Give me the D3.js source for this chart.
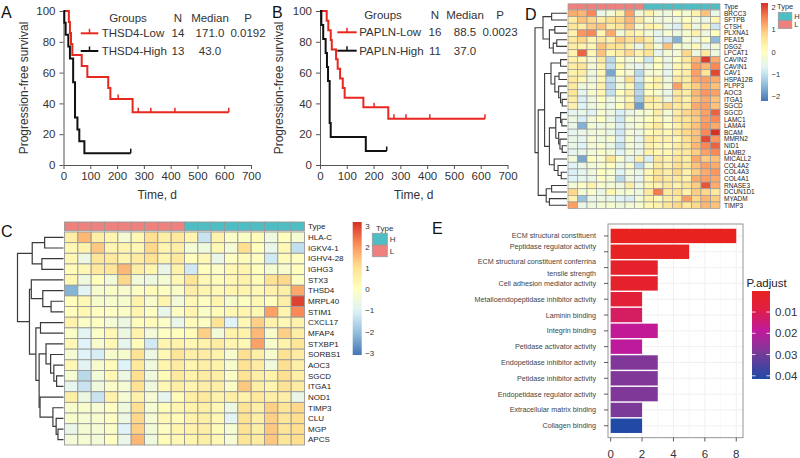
<!DOCTYPE html>
<html><head><meta charset="utf-8">
<script src="https://cdn.jsdelivr.net/npm/d3@7"></script>
<style>
body{margin:0;background:#fff}
svg{display:block}
text{font-family:"Liberation Sans",Arial,Helvetica,sans-serif}
</style>
</head><body>
<svg id="chart" width="800" height="458"></svg>
<script>
// ---------------- DATA ----------------
// Panel A (THSD4)
const thsd4LowTime  = [0,20,24,28,33,68,89,167,175,258,617];
const thsd4LowSurv  = [100,92.9,85.7,78.6,71.4,64.3,57.1,50.0,42.9,34.3,34.3];
const thsd4LowCens  = [204,279,326,416,617];
const thsd4HighTime = [0,3,8,18,24,36,43,52,59,78,251];
const thsd4HighSurv = [100,92.3,84.6,76.9,69.2,53.8,30.8,23.1,15.4,7.7,7.7];
const thsd4HighCens = [251];
const groupsA = ["THSD4-Low","THSD4-High"];
const nA = ["14","13"];
const medianA = ["171.0","43.0"];
const pA = "0.0192";
// Panel B (PAPLN)
const paplnLowTime  = [0,25,31,40,44,60,66,75,85,92,162,255,616];
const paplnLowSurv  = [100,93.75,87.5,81.25,75,68.75,62.5,56.25,50,43.75,37.5,30,30];
const paplnLowCens  = [202,276,321,410,616];
const paplnHighTime = [0,5,12,21,26,30,36,40,171,249];
const paplnHighSurv = [100,90.9,81.8,72.7,63.6,54.5,27.3,18.2,9.1,9.1];
const paplnHighCens = [249];
const groupsB = ["PAPLN-Low","PAPLN-High"];
const nB = ["16","11"];
const medianB = ["88.5","37.0"];
const pB = "0.0023";
const kmTimeTicks = [0,100,200,300,400,500,600,700];
const kmSurvTicks = [0,20,40,60,80,100];

// Panel C heatmap
const genesC = ["HLA-C","IGKV4-1","IGHV4-28","IGHG3","STX3","THSD4","MRPL40","STIM1","CXCL17","MFAP4",
  "STXBP1","SORBS1","AOC3","SGCD","ITGA1","NOD1","TIMP3","CLU","MGP","APCS"];
const typesC = ["L","L","L","L","L","L","L","L","L","H","H","H","H","H","H","H","H","H"];
const heatC = [
 [0.6,1.6,0.6,0.4,-0.3,0.3,1.1,0.6,0.8, 0.4,-1.3,0.5,-0.1,-0.1,0.2,-0.5,0.1,-0.3],
 [0.3,0.5,1.4,0.4,0.4,0.3,1.2,0.4,0.6, -0.3,-0.5,0.3,-0.3,1.1,0.1,-0.7,0.3,-1.4],
 [0.3,-0.6,0.9,0.8,0.4,0.7,1.0,0.4,0.8, 0.1,0.3,-0.7,0.0,0.2,0.0,-1.2,0.2,0.0],
 [0.2,0.3,0.8,0.9,1.6,0.6,0.4,-0.7,0.5, -1.2,0.1,-0.1,0.3,0.4,0.1,-0.3,-0.2,0.1],
 [0.3,-0.5,0.1,-0.4,1.2,-0.4,-0.5,-0.3,0.3, 0.9,0.3,0.2,0.3,0.5,0.2,1.0,1.2,0.0],
 [-2.2,-0.9,-0.2,-0.1,-0.2,0.0,0.2,0.0,-0.1, 0.6,0.4,0.3,0.4,0.4,0.3,0.5,0.6,1.8],
 [0.1,0.3,-0.2,-0.2,-0.2,0.5,-0.2,0.4,-0.4, 0.3,0.0,0.4,-0.2,0.0,0.3,0.1,0.6,3.0],
 [0.1,0.3,0.0,0.0,-0.1,0.4,0.0,-0.7,0.0, 0.4,-0.1,0.2,0.3,0.4,0.3,1.9,0.4,2.2],
 [0.5,-0.1,0.0,-0.3,-0.6,0.2,0.2,-0.1,-0.7, 0.2,0.0,1.0,-1.0,0.3,1.3,0.5,0.3,0.5],
 [-0.1,-0.9,-0.1,0.3,-0.6,0.5,-0.4,0.0,0.1, 0.2,1.3,-0.4,0.5,0.5,1.6,-0.2,1.3,0.6],
 [0.3,-1.0,-0.2,0.3,-0.8,0.2,-1.2,0.4,0.5, 0.3,0.5,0.7,0.4,0.3,1.9,-0.2,0.5,0.9],
 [-0.3,-1.0,-1.1,-0.2,-0.2,1.0,-0.6,0.3,0.9, 0.6,0.7,0.5,-0.2,1.1,0.6,-0.2,1.0,0.7],
 [0.3,-0.9,-0.2,0.2,-1.0,0.8,-0.5,0.4,0.7, 0.4,0.6,0.5,-0.2,1.0,0.7,-0.5,1.1,0.6],
 [-0.3,-1.5,-0.4,0.3,-0.6,1.1,-0.5,0.2,0.8, 0.5,0.7,0.6,-0.1,1.0,0.6,0.5,1.1,0.6],
 [-0.8,-1.3,-0.5,-0.1,-0.3,1.0,-0.5,0.3,0.6, 0.4,0.6,0.6,-0.1,1.4,0.6,0.4,1.0,0.7],
 [0.6,-0.6,-1.3,0.5,-0.3,0.5,-0.3,-0.8,0.2, 0.6,0.8,0.5,0.6,0.5,0.8,0.6,0.6,-0.7],
 [-0.2,-0.2,-0.3,0.0,-0.5,1.1,-0.3,0.2,0.4, 0.5,0.6,0.3,-0.6,1.0,0.6,1.3,0.9,1.2],
 [-0.2,-0.3,-0.2,0.0,-0.6,1.2,-0.3,0.3,0.2, 0.5,0.6,0.3,-0.9,1.0,0.6,1.3,0.9,1.1],
 [-0.7,-0.3,-0.3,-0.1,-1.0,1.3,-0.4,0.0,0.4, 0.5,0.6,0.2,-0.3,1.0,0.6,1.4,0.9,1.1],
 [-0.4,-0.3,-0.4,0.0,-0.7,1.6,-0.5,0.2,0.3, 0.4,0.6,0.3,-0.3,0.9,0.7,1.4,0.9,1.1]
];
const legendTicksC = [3,2,1,0,-1,-2,-3];
const treeC = [10,
  [6.8,[4.1,0,1],[4.7,2,3]],
  [7.4,
    [7.0,4,[4.5,5,[2.7,6,7]]],
    [6.0,[5.0,8,9],
      [5.3,[3.8,10,[2.8,11,[2.1,12,[1.5,13,14]]]],
           [5.1,15,[2.3,16,[1.6,17,[1.2,18,19]]]]]]]];

// Panel D heatmap
const genesD = ["BRCC3","SFTPB","CTSH","PLXNA1","PEA15","DSG2","LPCAT1","CAVIN2","CAVIN1","CAV1","HSPA12B",
  "PLPP3","AOC3","ITGA1","SGCD","SGCD","LAMC1","LAMA4","BCAM","MMRN2","NID1","LAMB2","MICALL2","COL4A2",
  "COL4A3","COL4A1","RNASE3","DCUN1D1","MYADM","TIMP3"];
const typesD = ["L","L","L","L","L","L","L","L","H","H","H","H","H","H","H","H"];
const heatD = [
 [1.2,1.1,1.5,-0.5,-0.3,0.3,1.3,-0.3,0.3,-0.3,-0.4,0.0,-0.3,0.3,1.0,-0.5],
 [0.4,1.0,0.8,0.4,0.7,0.8,1.1,0.5,-0.2,-0.4,-0.3,-0.4,0.0,-0.3,-0.5,0.2],
 [0.6,0.4,0.9,1.0,0.4,0.6,1.0,-0.2,0.3,0.2,-0.5,-0.8,0.3,-0.4,0.2,-0.9],
 [0.3,1.4,1.5,0.2,1.2,-0.3,0.4,0.2,-0.3,-0.6,-0.2,-0.4,-0.2,0.3,-0.4,0.0],
 [0.5,0.8,0.2,0.5,0.3,0.9,0.7,0.8,0.4,-0.6,-0.9,-1.6,-0.3,-0.5,0.0,-1.5],
 [0.4,0.3,0.2,1.0,0.7,0.6,0.3,-0.5,0.5,-0.3,1.0,-0.2,-0.3,0.1,-0.6,-0.3],
 [0.3,1.8,0.2,1.0,0.2,0.4,0.8,0.3,0.6,-0.6,-0.3,-0.3,0.8,-0.4,0.5,-0.4],
 [0.3,0.2,-0.3,0.5,-1.1,0.0,-0.3,-0.1,-0.9,0.1,-0.5,0.0,0.5,1.1,2.1,1.2],
 [0.4,0.6,-0.3,0.3,-1.0,0.2,-0.4,-0.6,-0.4,0.0,-0.5,0.2,0.3,1.3,1.1,1.5],
 [0.3,0.4,-0.4,0.2,-1.7,0.0,-0.2,-1.1,-0.3,-0.2,-0.6,0.2,0.4,1.3,0.6,2.0],
 [0.5,0.2,-0.4,0.2,-1.0,-0.3,0.7,-0.9,0.0,0.3,-0.4,0.5,0.4,1.2,1.3,1.2],
 [0.5,-0.4,-0.3,0.3,-1.1,-0.3,0.2,-1.2,0.2,0.3,-0.3,1.3,0.5,0.9,1.2,1.0],
 [0.6,-0.6,-0.2,0.2,-1.0,0.0,0.4,-1.1,0.0,-0.2,-0.5,0.5,0.4,1.1,1.4,1.3],
 [0.4,-0.8,-0.4,0.0,-0.5,-0.2,0.2,-1.3,0.5,0.3,-0.4,0.6,0.3,1.0,1.2,1.0],
 [0.3,-0.7,-0.4,-0.2,-0.5,0.0,0.5,-1.8,0.3,0.3,0.8,0.5,0.4,1.2,1.3,1.0],
 [-0.6,-0.5,-0.7,-0.2,-0.4,-0.8,-0.5,-0.3,-0.2,0.4,-0.3,0.4,0.8,1.0,1.3,1.8],
 [-0.4,-0.8,-0.3,0.0,-0.5,-0.9,-0.2,-0.3,0.0,0.2,-0.2,0.5,0.6,0.9,1.3,1.5],
 [-0.5,-1.6,-0.3,-0.4,-0.3,-0.8,-0.4,-0.2,0.2,0.5,0.0,0.3,0.7,1.0,1.4,1.2],
 [-0.6,-0.5,-0.4,-0.3,-0.5,-0.9,-0.3,-0.5,0.1,0.3,0.2,0.5,0.8,1.0,1.5,2.2],
 [-0.5,-0.6,-0.2,-0.4,-0.2,-0.8,-0.2,-0.6,0.4,0.3,0.3,0.2,0.7,1.0,2.0,1.4],
 [-0.5,-0.7,-0.3,-0.2,-0.5,-1.0,-0.3,-0.5,0.3,0.2,0.1,0.4,0.6,1.1,1.5,1.8],
 [-0.6,-0.5,-0.3,-0.1,-0.3,-0.7,-0.3,-0.5,0.3,0.2,0.2,0.4,0.5,0.9,1.3,1.5],
 [-0.3,-1.7,0.0,-0.2,0.6,-0.2,-0.6,0.3,-0.8,0.5,0.3,0.6,0.4,1.2,0.9,1.0],
 [-0.7,-0.5,-0.3,-0.2,0.0,-0.5,-0.2,-1.1,-0.3,0.5,0.3,0.7,0.5,1.0,1.3,1.2],
 [-0.8,-0.6,-0.4,0.0,-0.2,-0.7,-0.3,-0.5,0.2,0.6,0.4,0.8,0.3,0.9,1.2,1.4],
 [-0.7,-0.6,-0.5,-0.1,-0.3,-1.1,-0.4,-0.6,0.2,0.7,0.5,0.5,0.3,1.2,1.3,1.2],
 [-0.3,-0.1,0.3,-0.2,-0.3,-0.4,0.4,-0.4,0.2,0.3,0.5,0.3,0.6,0.9,1.9,1.2],
 [0.8,-0.3,-0.1,-0.5,0.2,-0.3,-0.2,-0.4,0.5,1.6,0.5,0.7,0.3,0.9,0.8,0.5],
 [0.3,-1.4,-0.5,-0.4,-0.5,-0.7,-0.8,-0.3,0.3,0.1,0.4,0.5,1.3,0.8,1.1,0.9],
 [1.3,-0.5,-0.4,-0.3,-0.2,-0.4,-0.3,-0.2,0.2,0.3,0.6,0.8,0.5,0.8,1.1,1.0]
];
const legendTicksD = [2,1,0,-1,-2];
const treeD = [10,
  [7.5,[4.8,0,1],[5.5,[3.8,2,3],[4.3,[3.2,4,5],6]]],
  [9.0,
    [7.0,
      [5.0,[2.0,7,8],[3.8,[2.5,9,10],[2.6,11,[2.0,12,[1.5,13,14]]]]],
      [5.5,[3.5,[2.0,15,[1.6,16,17]],[2.6,18,[2.2,19,[1.5,20,21]]]],[4.0,22,[2.8,23,[1.8,24,25]]]]],
    [6.5,[4.8,26,27],[5.5,28,29]]]];

// Panel E
const goTerms = ["ECM structural constituent","Peptidase regulator activity\n",
  "ECM structural constituent conferrina\ntensile strength","Cell adhesion mediator activity",
  "Metalloendopeptidase inhibitor activity","Laminin binding","Integrin binding",
  "Petidase activator activity","Endopetidase inhibitor activity","Petidase inhibitor activity",
  "Endopetidase regulator activity","Extracellular matrix binding","Collagen binding"];
const goCount = [8,5,3,3,2,2,3,2,3,3,3,2,2];
const goPadj  = [0.0002,0.0010,0.0030,0.0032,0.0060,0.0120,0.0180,0.0190,0.0280,0.0282,0.0284,0.0290,0.0412];
const goCountTicks = [0,2,4,6,8];
const padjTicks = [0.01,0.02,0.03,0.04];
const padjLabels = ["0.01","0.02","0.03","0.04"];

// ---------------- DRAW ----------------
const svg = d3.select("#chart");
svg.append("rect").attr("width",800).attr("height",458).attr("fill","#fff");
const RED = "#E8271F";
const FONT = '"Liberation Sans",Arial,Helvetica,sans-serif';

function panelLetter(t,x,y){
  svg.append("text").attr("x",x).attr("y",y).attr("font-size",16).attr("fill","#111").text(t);
}

function survAt(time,surv,t){
  let s = surv[0];
  for(let i=0;i<time.length;i++){ if(time[i]<=t) s = surv[i]; }
  return s;
}

function drawKM(cfg){
  const g = svg.append("g");
  const x = d3.scaleLinear().domain([0,700]).range(cfg.xr);
  const y = d3.scaleLinear().domain([0,100]).range([165,11]);
  const ax = g.append("g").attr("transform","translate(0,165)")
    .call(d3.axisBottom(x).tickValues(kmTimeTicks).tickSize(4).tickSizeOuter(0).tickPadding(3));
  const ay = g.append("g").attr("transform",`translate(${cfg.xr[0]},0)`)
    .call(d3.axisLeft(y).tickValues(kmSurvTicks).tickSize(4).tickSizeOuter(0).tickPadding(4));
  [ax,ay].forEach(a=>{
    a.selectAll("path,line").attr("stroke","#555");
    a.selectAll("text").attr("font-size",11.5).attr("fill","#333").attr("font-family",FONT);
  });
  g.append("text").attr("x",(cfg.xr[0]+cfg.xr[1])/2).attr("y",199).attr("text-anchor","middle")
    .attr("font-size",12).attr("fill","#333").text("Time, d");
  g.append("text").attr("transform",`translate(${cfg.ytx},88) rotate(-90)`).attr("text-anchor","middle")
    .attr("font-size",12).attr("fill","#333").text("Progression-free survival");
  const line = d3.line().x(d=>x(d[0])).y(d=>y(d[1])).curve(d3.curveStepAfter);
  cfg.series.forEach(s=>{
    const pts = s.time.map((t,i)=>[t,s.surv[i]]);
    g.append("path").attr("d",line(pts)).attr("fill","none").attr("stroke",s.color).attr("stroke-width",2);
    s.cens.forEach(t=>{
      const v = survAt(s.time,s.surv,t);
      g.append("line").attr("x1",x(t)).attr("x2",x(t)).attr("y1",y(v)).attr("y2",y(v)-4.5)
        .attr("stroke",s.color).attr("stroke-width",1.5);
    });
  });
  // legend table
  const L = cfg.leg;
  const hdr = [["Groups",L.gx,"middle"],["N",L.nx,"middle"],["Median",L.mx,"middle"],["P",L.px,"middle"]];
  hdr.forEach(h=>g.append("text").attr("x",h[1]).attr("y",L.hy).attr("text-anchor",h[2])
    .attr("font-size",11.5).attr("fill","#333").text(h[0]));
  cfg.series.forEach((s,i)=>{
    const yy = L.ry[i];
    g.append("line").attr("x1",L.lx[0]).attr("x2",L.lx[1]).attr("y1",yy).attr("y2",yy)
      .attr("stroke",s.color).attr("stroke-width",2);
    const cx=(L.lx[0]+L.lx[1])/2;
    g.append("line").attr("x1",cx).attr("x2",cx).attr("y1",yy).attr("y2",yy-4.5)
      .attr("stroke",s.color).attr("stroke-width",1.5);
    g.append("text").attr("x",L.nameX).attr("y",yy+4).attr("font-size",11.5).attr("fill","#333").text(cfg.groups[i]);
    g.append("text").attr("x",L.nx).attr("y",yy+4).attr("text-anchor","middle").attr("font-size",11.5).attr("fill","#333").text(cfg.n[i]);
    g.append("text").attr("x",L.mx).attr("y",yy+4).attr("text-anchor","middle").attr("font-size",11.5).attr("fill","#333").text(cfg.median[i]);
    if(i===0) g.append("text").attr("x",L.px).attr("y",yy+4).attr("text-anchor","middle").attr("font-size",11.5).attr("fill","#333").text(cfg.p);
  });
}

drawKM({xr:[63.5,251], ytx:28,
  series:[{time:thsd4LowTime,surv:thsd4LowSurv,cens:thsd4LowCens,color:RED},
          {time:thsd4HighTime,surv:thsd4HighSurv,cens:thsd4HighCens,color:"#111"}],
  groups:groupsA,n:nA,median:medianA,p:pA,
  leg:{gx:128,nx:178,mx:210,px:248,hy:21.5,ry:[33.3,51],lx:[80.7,98.3],nameX:101.7}});
drawKM({xr:[320,507.5], ytx:283,
  series:[{time:paplnLowTime,surv:paplnLowSurv,cens:paplnLowCens,color:RED},
          {time:paplnHighTime,surv:paplnHighSurv,cens:paplnHighCens,color:"#111"}],
  groups:groupsB,n:nB,median:medianB,p:pB,
  leg:{gx:383,nx:435,mx:465,px:500,hy:19,ry:[32.3,50.7],lx:[337.3,356.7],nameX:359.3}});

panelLetter("A",1,18);
panelLetter("B",272,18);

// ----- heatmaps -----
const RDYLBU = ["#4575B4","#91BFDB","#E0F3F8","#FFFFBF","#FEE090","#FC8D59","#D73027"];
const TYPECOL = {H:"#4CBEC4", L:"#EE817D"};

function toNode(a){ return typeof a==="number" ? {leaf:a} : {h:a[0], children:[toNode(a[1]),toNode(a[2])]}; }

function drawHeatmap(c){
  const g = svg.append("g");
  const nr = c.genes.length, nc = c.types.length;
  const xb = d3.scaleBand().domain(d3.range(nc)).range(c.xr);
  const yb = d3.scaleBand().domain(d3.range(nr)).range(c.yr);
  const dom = d3.range(7).map(i=>c.cd[0]+i*(c.cd[1]-c.cd[0])/6);
  const col = d3.scaleLinear().domain(dom).range(RDYLBU);
  // type bar
  g.selectAll(".tp").data(c.types).join("rect")
    .attr("x",(d,i)=>xb(i)).attr("y",c.ty[0]).attr("width",xb.bandwidth()).attr("height",c.ty[1]-c.ty[0])
    .attr("fill",d=>TYPECOL[d]).attr("stroke","#999").attr("stroke-width",c.sw);
  g.append("text").attr("x",c.xr[1]+c.lgap).attr("y",(c.ty[0]+c.ty[1])/2).attr("dy","0.35em")
    .attr("font-size",c.fs).attr("fill","#222").text("Type");
  // cells
  c.mat.forEach((row,ri)=>{
    g.selectAll(null).data(row).join("rect")
      .attr("x",(d,ci)=>xb(ci)).attr("y",yb(ri)).attr("width",xb.bandwidth()).attr("height",yb.bandwidth())
      .attr("fill",d=>col(d)).attr("stroke","#999").attr("stroke-width",c.sw);
  });
  g.selectAll(".gl").data(c.genes).join("text")
    .attr("x",c.xr[1]+c.lgap).attr("y",(d,i)=>yb(i)+yb.bandwidth()/2).attr("dy","0.35em")
    .attr("font-size",c.fs).attr("fill","#222").text(d=>d);
  // dendrogram
  const hx = d3.scaleLinear().domain([0,10]).range(c.dx);
  const root = d3.hierarchy(toNode(c.tree));
  root.eachAfter(n=>{
    if(n.children){ n.yy=(n.children[0].yy+n.children[1].yy)/2; n.hh=n.data.h; }
    else { n.yy = yb(n.data.leaf)+yb.bandwidth()/2; n.hh=0; }
  });
  root.each(n=>{
    if(!n.children) return;
    const [a,b]=n.children;
    g.append("path").attr("d",`M${hx(a.hh)},${a.yy}H${hx(n.hh)}V${b.yy}H${hx(b.hh)}`)
      .attr("fill","none").attr("stroke","#3a3a3a").attr("stroke-width",c.dw);
  });
  // colour legend
  const defs = svg.append("defs");
  const gid = "grad"+c.id;
  const grad = defs.append("linearGradient").attr("id",gid).attr("x1",0).attr("x2",0).attr("y1",1).attr("y2",0);
  d3.range(0,1.0001,0.05).forEach(t=>{
    grad.append("stop").attr("offset",t).attr("stop-color",col(c.cd[0]+t*(c.cd[1]-c.cd[0])));
  });
  const ly = d3.scaleLinear().domain(c.cd).range([c.lb.y1,c.lb.y0]);
  g.append("rect").attr("x",c.lb.x).attr("y",c.lb.y0).attr("width",c.lb.w).attr("height",c.lb.y1-c.lb.y0)
    .attr("fill",`url(#${gid})`);
  g.selectAll(".lt").data(c.lticks).join("text")
    .attr("x",c.lb.x+c.lb.w+3.5).attr("y",d=>ly(d)).attr("dy","0.35em")
    .attr("font-size",c.lfs).attr("fill","#333").text(d=>d<0?"\u2212"+Math.abs(d):d);
  // type legend
  const T = c.tl;
  g.append("text").attr("x",T.tx).attr("y",T.ty).attr("dy","0.35em").attr("font-size",c.lfs).attr("fill","#333").text("Type");
  ["H","L"].forEach((k,i)=>{
    g.append("rect").attr("x",T.bx).attr("y",T.by+i*T.bh).attr("width",T.bw).attr("height",T.bh)
      .attr("fill",TYPECOL[k]).attr("stroke","#999").attr("stroke-width",0.8);
    g.append("text").attr("x",T.bx+T.bw+2.5).attr("y",T.by+(i+0.5)*T.bh).attr("dy","0.35em")
      .attr("font-size",c.lfs).attr("fill","#333").text(k);
  });
}

drawHeatmap({id:"C",genes:genesC,types:typesC,mat:heatC,tree:treeC,
  xr:[64.5,304.5],yr:[232,445],ty:[222,230.7],cd:[-3.1,3.2],sw:0.9,fs:8,lgap:3.5,
  dx:[63.5,17.5],dw:1.2,lticks:legendTicksC,lfs:8,
  lb:{x:352.7,w:9,y0:222,y1:355},
  tl:{tx:376,ty:228,bx:372.3,by:233.3,bw:15,bh:11.7}});
drawHeatmap({id:"D",genes:genesD,types:typesD,mat:heatD,tree:treeD,
  xr:[568,720],yr:[10,208.6],ty:[3.8,9.3],cd:[-2.2,2.2],sw:0.7,fs:6.5,lgap:4,
  dx:[567,535],dw:1.1,lticks:legendTicksD,lfs:7.5,
  lb:{x:761,w:7,y0:3,y1:101},
  tl:{tx:777,ty:6.5,bx:778.3,by:12.5,bw:13.5,bh:8}});

panelLetter("C",1,237);
panelLetter("D",525,20);

// ----- Panel E -----
(function(){
  const g = svg.append("g");
  const x = d3.scaleLinear().domain([-0.17,8.43]).range([608,743]);
  const y = d3.scaleBand().domain(goTerms).range([224,437.7]).paddingInner(0.09).paddingOuter(0.3);
  const pmin=0.0001,pmax=0.0415;
  const norm = d3.scaleLinear().domain([pmin,pmax]).range([0,1]);
  const pal = d3.scaleLinear().domain([0,0.2,0.45,0.7,1])
    .range(["#E8221F","#E01F42","#C01A9C","#7A3A97","#1F49A6"]).interpolate(d3.interpolateRgb);
  const fillOf = p=>pal(norm(p));
  // grid
  d3.range(1,8,2).forEach(v=>g.append("line").attr("x1",x(v)).attr("x2",x(v)).attr("y1",224).attr("y2",437.7)
    .attr("stroke","#f4f4f4").attr("stroke-width",0.6));
  goCountTicks.forEach(v=>g.append("line").attr("x1",x(v)).attr("x2",x(v)).attr("y1",224).attr("y2",437.7)
    .attr("stroke","#ececec").attr("stroke-width",0.8));
  goTerms.forEach(t=>g.append("line").attr("x1",608).attr("x2",743).attr("y1",y(t)+y.bandwidth()/2).attr("y2",y(t)+y.bandwidth()/2)
    .attr("stroke","#ececec").attr("stroke-width",0.8));
  // bars
  g.selectAll(".bar").data(goTerms).join("rect")
    .attr("x",x(0)).attr("y",d=>y(d)).attr("width",(d,i)=>x(goCount[i])-x(0)).attr("height",y.bandwidth())
    .attr("fill",(d,i)=>fillOf(goPadj[i]));
  g.append("rect").attr("x",608).attr("y",224).attr("width",135).attr("height",213.7)
    .attr("fill","none").attr("stroke","#8a8a8a").attr("stroke-width",0.9);
  // y ticks & labels
  goTerms.forEach(t=>{
    const cy = y(t)+y.bandwidth()/2;
    g.append("line").attr("x1",604).attr("x2",608).attr("y1",cy).attr("y2",cy).attr("stroke","#333").attr("stroke-width",0.8);
    const lines = t.split("\n");
    const lh = 11.3;
    lines.forEach((ln,k)=>{
      g.append("text").attr("x",596).attr("y",cy+(k-(lines.length-1)/2)*lh).attr("dy","0.35em")
        .attr("text-anchor","end").attr("font-size",7.2).attr("fill","#444").text(ln);
    });
  });
  // x ticks
  goCountTicks.forEach(v=>{
    g.append("line").attr("x1",x(v)).attr("x2",x(v)).attr("y1",437.7).attr("y2",441.5).attr("stroke","#333").attr("stroke-width",0.8);
    g.append("text").attr("x",x(v)).attr("y",457.5).attr("text-anchor","middle").attr("font-size",11.5).attr("fill","#333").text(v);
  });
  // legend
  g.append("text").attr("x",746.5).attr("y",286.5).attr("font-size",11.5).attr("fill","#222").text("P.adjust");
  const defs = svg.append("defs");
  const grad = defs.append("linearGradient").attr("id","gradE").attr("x1",0).attr("x2",0).attr("y1",0).attr("y2",1);
  d3.range(0,1.0001,0.05).forEach(t=>grad.append("stop").attr("offset",t).attr("stop-color",pal(t)));
  const ly = d3.scaleLinear().domain([pmin,pmax]).range([291,379]);
  g.append("rect").attr("x",752).attr("y",291).attr("width",18).attr("height",88).attr("fill","url(#gradE)");
  padjTicks.forEach((v,i)=>{
    g.append("line").attr("x1",752).attr("x2",755.6).attr("y1",ly(v)).attr("y2",ly(v)).attr("stroke","#fff").attr("stroke-width",0.8);
    g.append("line").attr("x1",766.4).attr("x2",770).attr("y1",ly(v)).attr("y2",ly(v)).attr("stroke","#fff").attr("stroke-width",0.8);
    g.append("text").attr("x",775).attr("y",ly(v)).attr("dy","0.35em").attr("font-size",11.5).attr("fill","#333").text(padjLabels[i]);
  });
})();
panelLetter("E",432,234);
</script>
</body></html>
